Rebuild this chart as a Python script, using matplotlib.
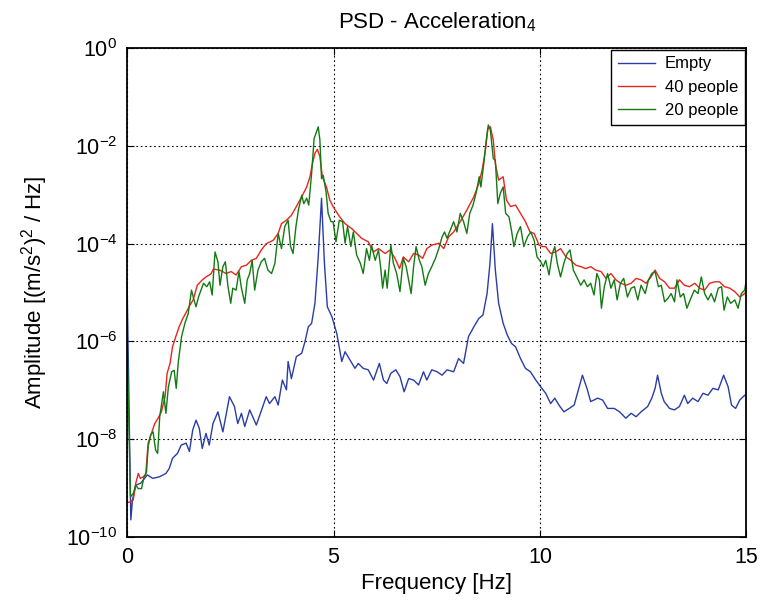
import matplotlib.pyplot as plt
import numpy as np

plt.rcParams['font.family'] = ['Liberation Sans', 'DejaVu Sans']
plt.rcParams['mathtext.fontset'] = 'custom'
plt.rcParams['mathtext.rm'] = 'Liberation Sans'

# PSD readings, frequency in Hz, amplitude as log10 of (m/s^2)^2/Hz
freq_empty = [0.0, 0.09, 0.13, 0.21, 0.33, 0.49, 0.62, 0.78, 0.94, 1.02, 1.10, 1.22, 1.31, 1.43, 1.51,
              1.59, 1.67, 1.75, 1.82, 1.91, 1.99, 2.08, 2.20, 2.32, 2.48, 2.60, 2.68, 2.77, 2.85, 2.97,
              3.13, 3.37, 3.45, 3.58, 3.66, 3.76, 3.86, 3.90, 3.98, 4.10, 4.23, 4.31, 4.39, 4.47, 4.55,
              4.63, 4.71, 4.78, 4.85, 4.96, 5.08, 5.20, 5.28, 5.40, 5.52, 5.60, 5.72, 5.84, 5.97, 6.11,
              6.21, 6.29, 6.39, 6.51, 6.61, 6.71, 6.82, 6.94, 7.06, 7.18, 7.26, 7.38, 7.51, 7.63, 7.75,
              7.91, 8.03, 8.15, 8.27, 8.40, 8.52, 8.62, 8.72, 8.79, 8.85, 8.92, 9.00, 9.11, 9.21, 9.31,
              9.41, 9.53, 9.65, 9.77, 9.90, 10.02, 10.14, 10.26, 10.36, 10.46, 10.58, 10.71, 10.83, 10.95,
              11.03, 11.14, 11.23, 11.40, 11.52, 11.64, 11.80, 11.93, 12.08, 12.21, 12.33, 12.45, 12.61,
              12.71, 12.79, 12.85, 12.94, 13.01, 13.14, 13.26, 13.38, 13.50, 13.58, 13.70, 13.83, 13.95,
              14.07, 14.19, 14.32, 14.45, 14.56, 14.64, 14.74, 14.84, 14.96, 15.0]
empty_log10 = [-4.78, -9.65, -9.24, -8.94, -8.90, -8.73, -8.80, -8.77, -8.70, -8.60, -8.39, -8.29, -8.12, -8.08, -8.25,
               -7.81, -7.61, -7.78, -8.19, -7.88, -8.12, -7.68, -7.44, -7.85, -7.13, -7.33, -7.68, -7.47, -7.74, -7.40,
               -7.71, -7.13, -7.27, -7.13, -7.30, -6.79, -6.99, -6.41, -6.76, -6.31, -6.24, -6.00, -5.70, -5.63, -5.22,
               -4.27, -3.07, -4.40, -5.29, -5.49, -5.84, -6.41, -6.21, -6.38, -6.55, -6.45, -6.55, -6.58, -6.79, -6.45,
               -6.79, -6.86, -6.65, -6.58, -6.72, -7.03, -6.76, -6.79, -6.89, -6.62, -6.79, -6.58, -6.62, -6.69, -6.58,
               -6.62, -6.35, -6.45, -5.90, -5.70, -5.53, -5.46, -5.02, -4.40, -3.59, -4.54, -5.22, -5.63, -5.87, -6.04,
               -6.11, -6.35, -6.55, -6.62, -6.79, -6.93, -7.06, -7.27, -7.16, -7.30, -7.44, -7.37, -7.30, -6.93,
               -6.69, -6.96, -7.23, -7.16, -7.20, -7.37, -7.37, -7.44, -7.57, -7.47, -7.54, -7.44, -7.33,
               -7.16, -6.96, -6.69, -7.06, -7.23, -7.37, -7.40, -7.33, -7.10, -7.27, -7.16, -7.23, -7.06,
               -7.10, -6.96, -6.99, -6.69, -6.93, -7.30, -7.37, -7.20, -7.10, -7.13]

freq_40 = [0.0, 0.08, 0.15, 0.21, 0.27, 0.32, 0.39, 0.45, 0.51, 0.59, 0.67, 0.75, 0.83, 0.92, 0.97, 1.04, 1.10,
           1.18, 1.26, 1.35, 1.44, 1.52, 1.60, 1.70, 1.81, 1.91, 2.03, 2.09, 2.24, 2.40, 2.52, 2.64, 2.77, 2.89,
           3.01, 3.13, 3.25, 3.37, 3.54, 3.66, 3.74, 3.86, 3.98, 4.10, 4.23, 4.35, 4.43, 4.49, 4.55, 4.61, 4.67,
           4.73, 4.83, 4.91, 4.99, 5.04, 5.15, 5.28, 5.44, 5.56, 5.68, 5.84, 5.97, 6.09, 6.25, 6.37, 6.49, 6.60,
           6.69, 6.82, 6.94, 7.06, 7.16, 7.26, 7.38, 7.55, 7.67, 7.79, 7.91, 8.07, 8.23, 8.40, 8.52, 8.60, 8.68,
           8.74, 8.80, 8.87, 8.92, 9.00, 9.11, 9.19, 9.29, 9.41, 9.53, 9.65, 9.76, 9.86, 9.98, 10.07, 10.14,
           10.26, 10.38, 10.50, 10.63, 10.75, 10.87, 10.99, 11.11, 11.23, 11.35, 11.48, 11.60, 11.72, 11.84,
           11.96, 12.08, 12.21, 12.33, 12.45, 12.57, 12.69, 12.79, 12.90, 13.02, 13.14, 13.26, 13.38, 13.50,
           13.62, 13.75, 13.87, 13.99, 14.11, 14.23, 14.35, 14.47, 14.60, 14.72, 14.84, 14.96, 15.0]
people40_log10 = [-9.30, -9.28, -9.24, -8.90, -8.70, -8.80, -8.77, -8.73, -8.08, -7.88, -7.68, -7.57, -7.44, -7.13, -6.65, -6.45, -6.11,
                  -5.90, -5.70, -5.53, -5.39, -5.26, -5.15, -4.85, -4.75, -4.68, -4.62, -4.52, -4.54, -4.61, -4.57, -4.64, -4.47, -4.44,
                  -4.34, -4.30, -4.13, -4.00, -3.93, -3.79, -3.59, -3.52, -3.42, -3.24, -3.04, -2.84, -2.63, -2.36, -2.15, -2.07, -2.22,
                  -2.63, -2.84, -3.11, -3.24, -3.31, -3.45, -3.59, -3.69, -3.79, -3.89, -3.96, -4.17, -4.10, -4.20, -4.13, -4.30, -4.51,
                  -4.27, -4.37, -4.20, -4.23, -4.30, -4.10, -4.03, -3.99, -4.10, -3.86, -3.76, -3.55, -3.31, -3.04, -2.77, -2.49, -2.09,
                  -1.64, -1.61, -1.88, -2.36, -2.70, -2.63, -3.11, -3.24, -3.21, -3.38, -3.55, -3.76, -3.79, -4.03, -4.06, -4.06,
                  -4.20, -4.17, -4.10, -4.27, -4.34, -4.44, -4.47, -4.51, -4.47, -4.54, -4.57, -4.71, -4.61, -4.74,
                  -4.81, -4.85, -4.81, -4.71, -4.74, -4.81, -4.68, -4.54, -4.71, -4.78, -4.91, -4.91, -4.74, -4.85,
                  -4.88, -4.81, -4.91, -4.95, -4.81, -4.78, -4.78, -4.88, -4.91, -4.98, -5.09, -5.02, -4.95]

freq_20 = [0.0, 0.08, 0.15, 0.21, 0.27, 0.35, 0.41, 0.47, 0.51, 0.57, 0.63, 0.69, 0.74, 0.79, 0.88, 0.94, 1.00,
           1.08, 1.14, 1.19, 1.24, 1.32, 1.40, 1.48, 1.56, 1.62, 1.67, 1.73, 1.85, 1.93, 2.00, 2.06, 2.13, 2.20,
           2.25, 2.32, 2.38, 2.44, 2.51, 2.56, 2.64, 2.71, 2.77, 2.85, 2.91, 2.97, 3.03, 3.09, 3.17, 3.25, 3.33,
           3.41, 3.50, 3.58, 3.66, 3.74, 3.82, 3.90, 3.96, 4.02, 4.09, 4.15, 4.23, 4.28, 4.35, 4.40, 4.47, 4.53,
           4.59, 4.63, 4.67, 4.71, 4.75, 4.82, 4.87, 4.94, 4.99, 5.06, 5.14, 5.22, 5.28, 5.34, 5.42, 5.48, 5.56,
           5.65, 5.72, 5.80, 5.87, 5.92, 6.01, 6.09, 6.14, 6.19, 6.25, 6.30, 6.39, 6.45, 6.53, 6.61, 6.69, 6.76,
           6.82, 6.88, 6.94, 7.00, 7.08, 7.14, 7.22, 7.30, 7.38, 7.47, 7.55, 7.63, 7.69, 7.75, 7.83, 7.91, 7.99,
           8.07, 8.15, 8.23, 8.30, 8.38, 8.46, 8.53, 8.57, 8.64, 8.70, 8.75, 8.80, 8.87, 8.92, 8.98, 9.04, 9.11,
           9.17, 9.25, 9.31, 9.37, 9.45, 9.53, 9.61, 9.70, 9.78, 9.86, 9.93, 10.02, 10.08, 10.14, 10.22, 10.30,
           10.36, 10.42, 10.50, 10.58, 10.66, 10.73, 10.81, 10.89, 10.99, 11.07, 11.15, 11.23, 11.31, 11.38,
           11.44, 11.49, 11.56, 11.64, 11.72, 11.80, 11.87, 11.95, 12.03, 12.12, 12.21, 12.29, 12.37, 12.45,
           12.55, 12.63, 12.71, 12.79, 12.87, 12.94, 13.02, 13.10, 13.18, 13.26, 13.32, 13.40, 13.48, 13.56,
           13.64, 13.74, 13.83, 13.91, 13.99, 14.07, 14.15, 14.23, 14.32, 14.40, 14.46, 14.54, 14.62, 14.72,
           14.80, 14.88, 14.96, 15.0]
people20_log10 = [-5.97, -9.18, -9.11, -8.94, -9.01, -9.01, -8.77, -8.67, -8.15, -7.91, -7.85, -8.22, -8.29, -7.54, -7.03, -7.47, -6.93,
                  -6.62, -6.59, -6.96, -6.42, -5.90, -5.63, -5.43, -4.95, -5.15, -5.29, -5.09, -4.81, -4.88, -4.78, -5.05, -4.17, -4.37,
                  -4.85, -4.47, -4.37, -4.85, -5.22, -4.91, -4.95, -4.57, -4.91, -5.22, -4.74, -4.61, -4.34, -4.95, -4.54, -4.37, -4.30,
                  -4.54, -4.61, -4.40, -3.79, -4.10, -3.65, -3.52, -4.06, -4.20, -3.65, -3.31, -3.01, -3.18, -3.07, -3.21, -2.56, -1.85,
                  -1.71, -1.61, -1.88, -2.67, -2.60, -2.94, -3.38, -3.55, -3.55, -3.96, -3.52, -3.55, -3.99, -3.65, -4.06, -3.76, -4.23,
                  -4.40, -4.61, -4.10, -4.34, -4.03, -4.34, -4.13, -4.47, -4.91, -4.54, -4.91, -4.03, -4.40, -4.61, -4.98, -4.30, -4.47,
                  -4.74, -5.02, -4.47, -4.06, -4.34, -4.47, -4.85, -4.61, -4.47, -4.30, -4.10, -3.86, -3.76, -3.89, -3.72, -3.55, -3.76,
                  -3.38, -3.55, -3.79, -3.38, -3.21, -2.94, -2.63, -2.84, -2.36, -1.88, -1.57, -1.68, -2.26, -2.29, -3.18, -2.97, -2.84,
                  -3.38, -3.45, -3.72, -4.06, -3.79, -3.65, -4.06, -3.86, -3.76, -3.93, -4.27, -4.37, -4.47, -4.34, -4.64, -4.20,
                  -4.06, -4.40, -4.68, -4.40, -4.20, -4.13, -4.54, -4.68, -4.85, -4.74, -4.88, -4.81, -5.05, -4.61,
                  -4.74, -5.32, -4.88, -4.61, -4.91, -4.74, -5.15, -4.81, -4.71, -5.09, -4.91, -4.88, -5.15, -4.85,
                  -5.02, -4.74, -4.61, -4.57, -4.88, -4.85, -5.19, -5.12, -5.02, -5.19, -4.74, -5.09, -5.02, -5.32,
                  -5.15, -4.95, -5.02, -4.68, -5.02, -5.15, -5.02, -5.19, -4.91, -4.88, -5.36, -5.09, -5.22, -5.15,
                  -5.32, -5.02, -4.95, -4.74]

fig = plt.figure(figsize=(7.75, 6.02), dpi=100)
ax = fig.add_axes([0.164, 0.108, 0.799, 0.812])

ax.plot(freq_empty, 10.0 ** np.array(empty_log10), color='#2a3ca6', lw=1.0, label='Empty')
ax.plot(freq_40, 10.0 ** np.array(people40_log10), color='#e8251c', lw=1.0, label='40 people')
ax.plot(freq_20, 10.0 ** np.array(people20_log10), color='#137a13', lw=1.0, label='20 people')

ax.set_yscale('log')
ax.set_xlim(0, 15)
ax.set_ylim(1e-10, 1e0)
ax.set_xticks([0, 5, 10, 15])
ax.set_yticks([1e-10, 1e-8, 1e-6, 1e-4, 1e-2, 1e0])
ax.set_yticklabels(['$10^{-10}$', '$10^{-8}$', '$10^{-6}$', '$10^{-4}$', '$10^{-2}$', '$10^{0}$'])
ax.minorticks_off()
ax.tick_params(direction='in', labelsize=15.5, length=5, top=True, right=True, pad=7)
ax.grid(True, color='black', linestyle=(0, (1.5, 2.5)), linewidth=0.8)
for s in ax.spines.values():
    s.set_linewidth(1.3)

ax.set_xlabel('Frequency [Hz]', fontsize=16)
ax.set_ylabel('Amplitude [(m/s$^2$)$^2$ / Hz]', fontsize=16, labelpad=12)
ax.set_title('PSD - Acceleration$_4$', fontsize=16, pad=14)

leg = ax.legend(loc='upper right', fontsize=12, fancybox=False, framealpha=1,
                edgecolor='black', borderaxespad=0.1, handlelength=2.2, handletextpad=0.6,
                labelspacing=0.5, borderpad=0.4)
leg.get_frame().set_linewidth(1.0)

fig.savefig('out.png', dpi=100)
